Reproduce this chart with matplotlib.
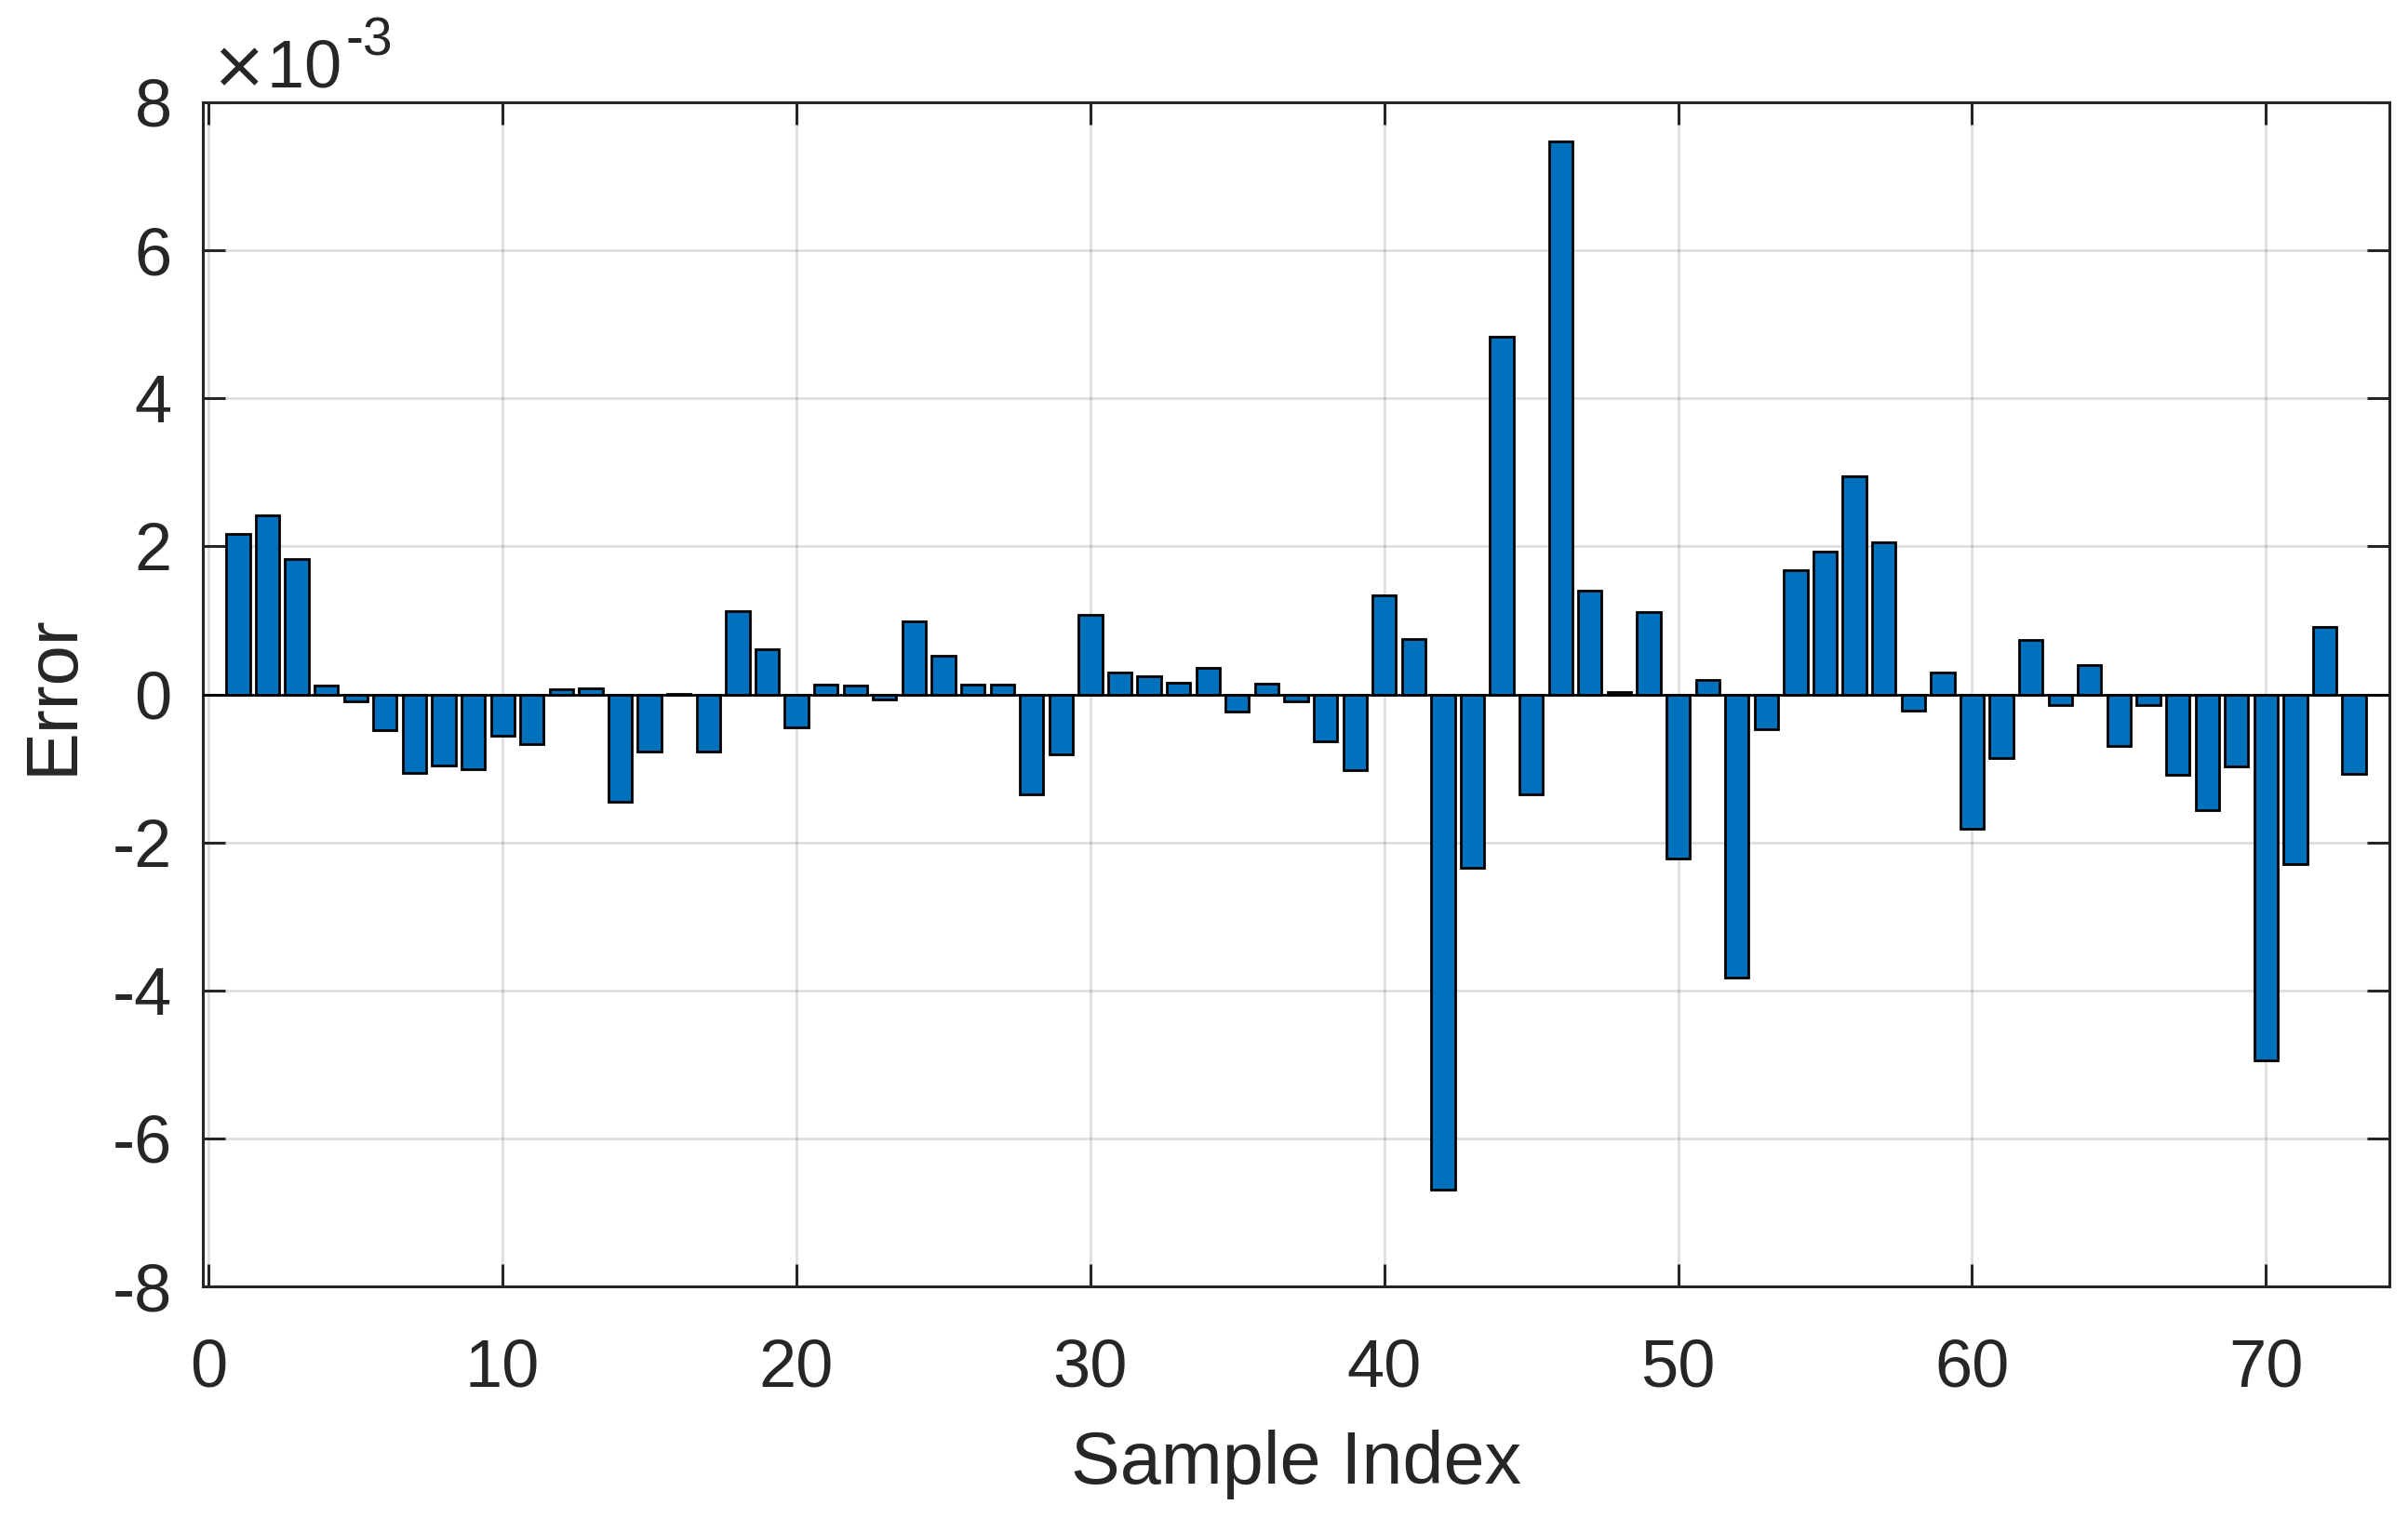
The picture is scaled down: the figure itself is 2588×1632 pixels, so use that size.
import matplotlib
matplotlib.use("Agg")
import matplotlib.pyplot as plt
import numpy as np

plt.rcParams['font.family'] = ['Liberation Sans', 'DejaVu Sans']
plt.rcParams['axes.unicode_minus'] = False

# Data (error values in units of 1e-3)
sample_index = list(range(1, 74))
error_e3 = [
    2.17, 2.42, 1.83, 0.12, -0.10, -0.49, -1.06, -0.96, -1.01, -0.56,
    -0.67, 0.07, 0.08, -1.45, -0.77, 0.01, -0.77, 1.13, 0.61, -0.44,
    0.13, 0.12, -0.07, 0.99, 0.52, 0.13, 0.13, -1.35, -0.81, 1.07,
    0.29, 0.25, 0.16, 0.36, -0.23, 0.15, -0.10, -0.63, -1.02, 1.34,
    0.75, -6.69, -2.34, 4.83, -1.35, 7.47, 1.40, 0.03, 1.11, -2.22,
    0.20, -3.83, -0.47, 1.68, 1.93, 2.95, 2.06, -0.22, 0.29, -1.81,
    -0.86, 0.73, -0.14, 0.40, -0.70, -0.14, -1.09, -1.57, -0.97, -4.95,
    -2.30, 0.91, -1.08,
]
x_ticks = [0, 10, 20, 30, 40, 50, 60, 70]
y_ticks = [-8, -6, -4, -2, 0, 2, 4, 6, 8]

W, H, DPI = 2588, 1632, 200
fig = plt.figure(figsize=(W / DPI, H / DPI), dpi=DPI)
left, right, top, bottom = 218 / W, 2568 / W, 110 / H, 1383 / H
ax = fig.add_axes([left, 1 - bottom, right - left, bottom - top])

axis_col = '#262626'
ax.bar(sample_index, error_e3, width=0.8, color='#0072BD',
       edgecolor='black', linewidth=1.0, zorder=3)
ax.axhline(0, color='black', linewidth=1.0, zorder=4)

ax.set_xlim(-0.2, 74.2)
ax.set_ylim(-8, 8)
ax.set_xticks(x_ticks)
ax.set_yticks(y_ticks)
ax.set_xticklabels([str(v) for v in x_ticks])
ax.set_yticklabels([str(v) for v in y_ticks])

ax.grid(True, color=axis_col, alpha=0.15, linewidth=1.0, zorder=0)
ax.set_axisbelow(True)

for s in ax.spines.values():
    s.set_color(axis_col)
    s.set_linewidth(1.1)

ax.tick_params(axis='both', direction='in', length=8.5, width=1.1,
               color=axis_col, labelcolor=axis_col, labelsize=26,
               top=True, right=True)
ax.tick_params(axis='x', pad=20)
ax.tick_params(axis='y', pad=12)

ax.set_xlabel('Sample Index', fontsize=28.5, color=axis_col, labelpad=11.5)
ax.set_ylabel('Error', fontsize=28, color=axis_col, labelpad=9.5)

# exponent label: "×10" followed by superscript "-3" (hyphen, as in the original)
base = fig.text(226 / W, (H - 93) / H, r'$\times$10', fontsize=26,
                color=axis_col, ha='left', va='baseline')
fig.canvas.draw()
bb = base.get_window_extent()
fig.text((bb.x1 + 5) / W, (H - 59) / H, '-3', fontsize=20.5,
         color=axis_col, ha='left', va='baseline')

fig.savefig('out.png', dpi=DPI, facecolor='white')
